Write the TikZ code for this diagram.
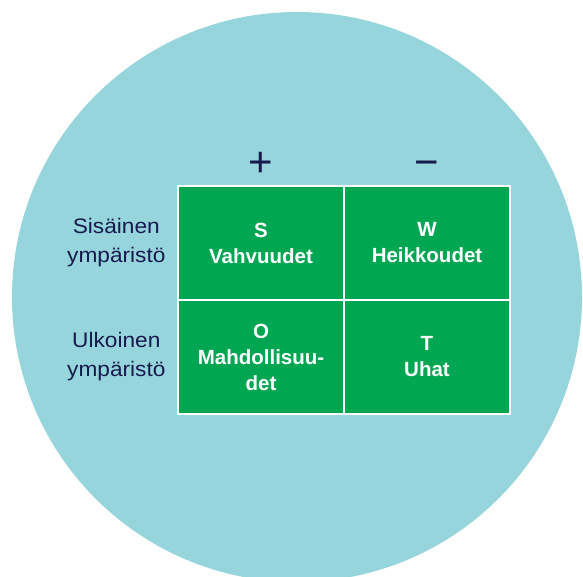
\documentclass[tikz,border=0pt]{standalone}
\usepackage{fontspec}
\setmainfont{Liberation Sans}
\newfontfamily\sidefont[FakeStretch=1.08]{Liberation Sans}
\usepackage{xcolor}
\definecolor{cBack}{HTML}{97D5DC}
\definecolor{cCell}{HTML}{00A651}
\definecolor{cInk}{HTML}{161A4D}
\usetikzlibrary{positioning}
\tikzset{
  swot-cell/.style={fill=cCell,draw=white,line width=2pt,outer sep=0pt,
    minimum width=166pt,minimum height=114pt,align=center,text=white,
    font=\fontsize{20.5}{26}\selectfont\bfseries},
  side-label/.style={align=center,text=cInk,font=\sidefont\fontsize{21}{29}\selectfont},
  sign-label/.style={text=cInk,anchor=base,font=\fontsize{42}{42}\selectfont},
}

\begin{document}
\begin{tikzpicture}[x=1pt,y=-1pt,node distance=0pt]
  \useasboundingbox (0,0) rectangle (583,577);
  \fill[cBack] (297,297) circle (285pt);
  % nelikenttä
  \node[swot-cell]             (s) at (261,243) {S\\Vahvuudet};
  \node[swot-cell,right=of s]  (w) {W\\Heikkoudet};
  \node[swot-cell,below=of s]  (o) {O\\Mahdollisuu-\\det};
  \node[swot-cell,below=of w]  (t) {T\\Uhat};
  % otsikot
  \node[sign-label] (plus)  at ([yshift=9pt]s.north) {+};
  \node[sign-label] (minus) at ([yshift=9pt]w.north) {−};
  \node[side-label,left=9pt of s] (int) {Sisäinen\\ympäristö};
  \node[side-label,left=9pt of o] (ext) {Ulkoinen\\ympäristö};
\end{tikzpicture}
\end{document}
